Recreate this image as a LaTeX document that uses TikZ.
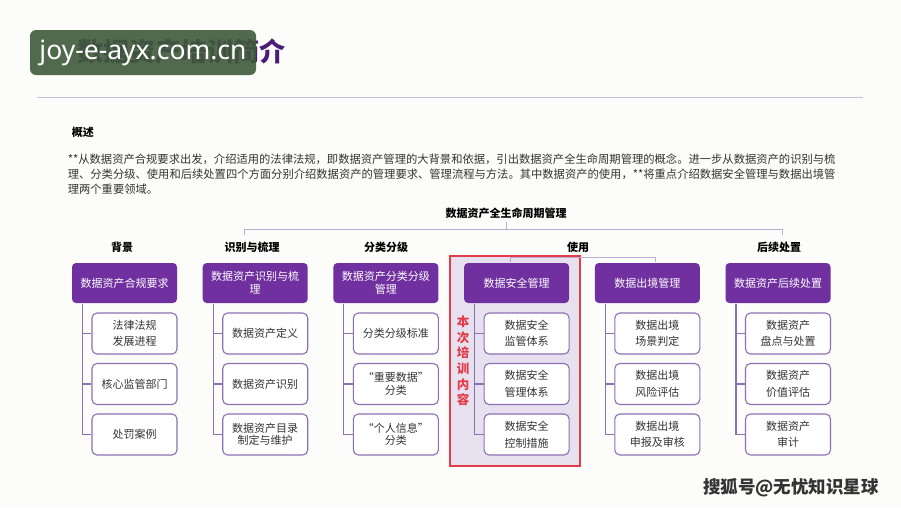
\documentclass[tikz,border=0pt]{standalone}
\usepackage{fontspec}
\setmainfont{Noto Sans CJK SC}
\newfontfamily\latinsans{Noto Sans}
\usetikzlibrary{positioning, calc}
\definecolor{cpurple}{HTML}{7030A0}
\definecolor{cedge}{HTML}{8C70B4}
\definecolor{ctree}{HTML}{BCAED0}
\definecolor{cred}{HTML}{E33B4A}
\definecolor{clav}{HTML}{E7E1EF}
\definecolor{ctext}{HTML}{333333}
\definecolor{cink}{HTML}{4A1C78}
\definecolor{cmark}{HTML}{3F5A3A}
\definecolor{cpaper}{HTML}{FCFCFA}
\tikzset{
  every picture/.style={line width=1pt},
  head/.style={fill=cpurple, rounded corners=4pt, text=white, align=center, minimum width=105pt, minimum height=40pt, inner sep=2pt, font=\fontsize{11}{13}\selectfont},
  leaf/.style={draw=cedge, fill=white, rounded corners=5pt, align=center, text=ctext, minimum width=85pt, minimum height=41pt, inner sep=2pt, line width=1.1pt, font=\fontsize{11}{12.5}\selectfont},
  cat/.style={font=\fontsize{11}{13}\selectfont\bfseries},
  link/.style={draw=cedge, line width=1.1pt},
  tree/.style={draw=ctree, line width=1pt},
}
% one column: index, x of head, head text, three leaf texts
\newcommand{\branch}[6]{%
  \node[head] (h#1) at (#2,283) {#3};
  \node[leaf] (l#1a) at (#2+10,333.5) {#4};
  \node[leaf] (l#1b) at (#2+10,384) {#5};
  \node[leaf] (l#1c) at (#2+10,434.5) {#6};
  \draw[link] ([xshift=11pt]h#1.south west) |- (l#1c.west);
  \draw[link] ([xshift=-9pt]l#1a.west) -- (l#1a.west);
  \draw[link] ([xshift=-9pt]l#1b.west) -- (l#1b.west);
}

\begin{document}
\begin{tikzpicture}[x=1pt, y=-1pt]
  \fill[cpaper] (0,0) rectangle (901,507);
  % heading
  \node[anchor=west, inner sep=0pt, font=\fontsize{26}{30}\selectfont\bfseries, text=cink] (title) at (77,52) {数据资产培训简介};
  \node[fill=cmark, fill opacity=0.9, text opacity=1, text=white, rounded corners=6pt, minimum width=226pt, minimum height=45pt, inner xsep=4pt, font=\latinsans\fontsize{26.5}{30}\selectfont] (mark) at (143,52.5) {joy-e-ayx.com.cn};
  \draw[ctree!80] (37,97) -- (863,97);
  % overview
  \node[anchor=west, font=\fontsize{11}{13}\selectfont\bfseries] (ovt) at (68,132) {概述};
  \node[anchor=west, align=left, font=\fontsize{11.3}{15}\selectfont, text=ctext] (intro) at (64,174) {**从数据资产合规要求出发，介绍适用的法律法规，即数据资产管理的大背景和依据，引出数据资产全生命周期管理的概念。进一步从数据资产的识别与梳\\理、分类分级、使用和后续处置四个方面分别介绍数据资产的管理要求、管理流程与方法。其中数据资产的使用，**将重点介绍数据安全管理与数据出境管\\理两个重要领域。};
  % life cycle tree
  \node[cat] (life) at (506,213) {数据资产全生命周期管理};
  \coordinate (jl) at (244,229);
  \coordinate (jr) at (782,229);
  \draw[tree] (life.south) -- (life.south |- jl);
  \draw[tree] ([yshift=-6pt]jl) -- (jl) -- (jr) -- ([yshift=-6pt]jr);
  \node[draw=cred, fill=clav, line width=1.2pt, minimum width=130pt, minimum height=210pt, inner sep=0pt] (focus) at (515,361) {};
  \foreach \c/\x [count=\k] in {背景/122, 识别与梳理/252, 分类分级/386, 使用/578, 后续处置/779}
    \node[cat] (cat\k) at (\x,247) {\c};
  \coordinate (ul) at (510,257);
  \coordinate (ur) at (655,257);
  \draw[tree] ([yshift=-5pt]ul) -- (ul) -- (ur) -- ([yshift=-5pt]ur);
  % columns
  \branch{1}{124.5}{数据资产合规要求}{法律法规\\[4pt]发展进程}{核心监管部门}{处罚案例}
  \branch{2}{255.2}{数据资产识别与梳\\理}{数据资产定义}{数据资产识别}{数据资产目录\\制定与维护}
  \branch{3}{385.9}{数据资产分类分级\\管理}{分类分级标准}{“重要数据”\\分类}{“个人信息”\\分类}
  \branch{4}{516.6}{数据安全管理}{数据安全\\[4pt]监管体系}{数据安全\\[4pt]管理体系}{数据安全\\[4pt]控制措施}
  \branch{5}{647.3}{数据出境管理}{数据出境\\[4pt]场景判定}{数据出境\\[4pt]风险评估}{数据出境\\[4pt]申报及审核}
  \branch{6}{778}{数据资产后续处置}{数据资产\\[4pt]盘点与处置}{数据资产\\[4pt]价值评估}{数据资产\\[4pt]审计}
  \node[text=cred, font=\fontsize{12.5}{15.6}\selectfont\bfseries, align=center] (tag) at (463,361) {本\\次\\培\\训\\内\\容};
  % source
  \node[font=\fontsize{17.5}{20}\selectfont\bfseries, text=ctext] (src) at (791,488) {搜狐号@无忧知识星球};
\end{tikzpicture}
\end{document}
